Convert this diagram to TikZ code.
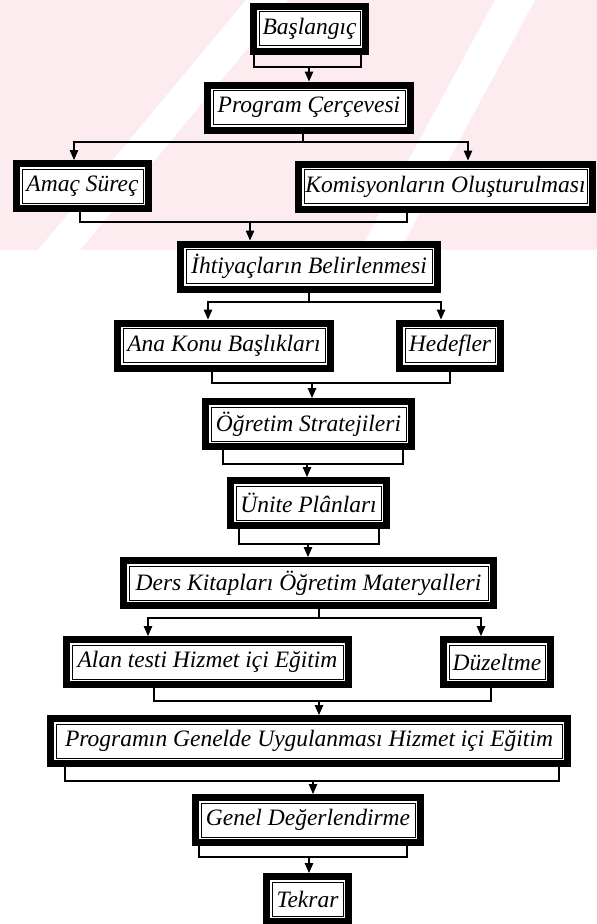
\documentclass[tikz,border=0pt]{standalone}
\usepackage{fontspec}
\setmainfont{Liberation Serif}
\usepackage{xcolor}
\usetikzlibrary{positioning,calc,arrows.meta}

\definecolor{wmpink}{HTML}{FDECEF}

\tikzset{
    framebox/.style={draw, fill=white, line width=0.8pt, inner sep=1pt,
        minimum height=34pt, outer sep=9pt, line join=miter,
        font=\itshape\fontsize{23.5}{25}\selectfont,
        preaction={draw, line width=18pt, line join=miter},
        preaction={draw=white, line width=4pt, line join=miter}},
    link/.style={line width=1.2pt},
    arr/.style={line width=1.2pt, -{Triangle[width=8.5pt,length=10pt]}}
}

\begin{document}
\begin{tikzpicture}[x=1pt, y=-1pt]
    \useasboundingbox (0,0) rectangle (597,924);
    \fill[wmpink] (0,0) rectangle (597,250);
    \fill[white] (38,250) -- (80,250) -- (288,0) -- (246,0) -- cycle;
    \fill[white] (360,250) -- (400,250) -- (535,0) -- (495,0) -- cycle;

    \node[framebox, minimum width=101pt] (bas) at (309.5,28.5) {Başlangıç};
    \node[framebox, minimum width=192pt] (prog) at (309,107.5) {Program Çerçevesi};
    \node[framebox, minimum width=121pt] (amac) at (82.5,186) {Amaç Süreç};
    \node[framebox, minimum width=283pt] (kom) at (445.5,186.5) {Komisyonların Oluşturulması};
    \node[framebox, minimum width=246pt] (iht) at (309,266.5) {İhtiyaçların Belirlenmesi};
    \node[framebox, minimum width=202pt] (ana) at (224,345.5) {Ana Konu Başlıkları};
    \node[framebox, minimum width=90pt] (hed) at (450,345.5) {Hedefler};
    \node[framebox, minimum width=195pt] (ogr) at (308.5,424) {Öğretim Stratejileri};
    \node[framebox, minimum width=145pt] (uni) at (308.5,503) {Ünite Plânları};
    \node[framebox, minimum width=359pt] (ders) at (308.5,583) {Ders Kitapları Öğretim Materyalleri};
    \node[framebox, minimum width=271pt] (alan) at (207.5,662) {Alan testi Hizmet içi Eğitim};
    \node[framebox, minimum width=96pt] (duz) at (497,662) {Düzeltme};
    \node[framebox, minimum width=506pt] (progu) at (309,741) {Programın Genelde Uygulanması Hizmet içi Eğitim};
    \node[framebox, minimum width=214pt] (genel) at (308,820) {Genel Değerlendirme};
    \node[framebox, minimum width=71pt] (tekrar) at (307.5,899) {Tekrar};

    \coordinate (j1) at (309,67);
    \draw[link] ([xshift=4pt]bas.south west) |- (j1) -| ([xshift=-8pt]bas.south east);
    \draw[arr] (j1) -- (j1 |- prog.north);

    \coordinate (f2) at (303,142);
    \draw[link] (prog.south -| f2) -- (f2);
    \draw[arr] (f2) -| ([xshift=-8.5pt]amac.north);
    \draw[arr] (f2) -| ([xshift=22.5pt]kom.north);

    \coordinate (j3) at (250,222);
    \draw[link] ([xshift=-2.5pt]amac.south) |- (j3) -| ([xshift=-38.5pt]kom.south);
    \draw[arr] (j3) -- (j3 |- iht.north);

    \coordinate (f4) at (309,302);
    \draw[link] (iht.south -| f4) -- (f4);
    \draw[arr] (f4) -| ([xshift=-16pt]ana.north);
    \draw[arr] (f4) -| ([xshift=-9pt]hed.north);

    \coordinate (j5) at (312,383);
    \draw[link] ([xshift=-12pt]ana.south) |- (j5) -| (hed.south);
    \draw[arr] (j5) -- (j5 |- ogr.north);

    \coordinate (j6) at (307,464);
    \draw[link] ([xshift=21pt]ogr.south west) |- (j6) -| ([xshift=-12pt]ogr.south east);
    \draw[arr] (j6) -- (j6 |- uni.north);

    \coordinate (j7) at (308,544);
    \draw[link] ([xshift=12pt]uni.south west) |- (j7) -| ([xshift=-11pt]uni.south east);
    \draw[arr] (j7) -- (j7 |- ders.north);

    \coordinate (f8) at (319,618);
    \draw[link] (ders.south -| f8) -- (f8);
    \draw[arr] (f8) -| ([xshift=-59.5pt]alan.north);
    \draw[arr] (f8) -| ([xshift=-16pt]duz.north);

    \coordinate (j9) at (319,701);
    \draw[link] ([xshift=-53.5pt]alan.south) |- (j9) -| ([xshift=-6pt]duz.south);
    \draw[arr] (j9) -- (j9 |- progu.north);

    \coordinate (j10) at (313,781);
    \draw[link] ([xshift=18pt]progu.south west) |- (j10) -| ([xshift=-12pt]progu.south east);
    \draw[arr] (j10) -- (j10 |- genel.north);

    \coordinate (j11) at (309,857);
    \draw[link] ([xshift=7pt]genel.south west) |- (j11) -| ([xshift=-17pt]genel.south east);
    \draw[arr] (j11) -- (j11 |- tekrar.north);
\end{tikzpicture}
\end{document}
